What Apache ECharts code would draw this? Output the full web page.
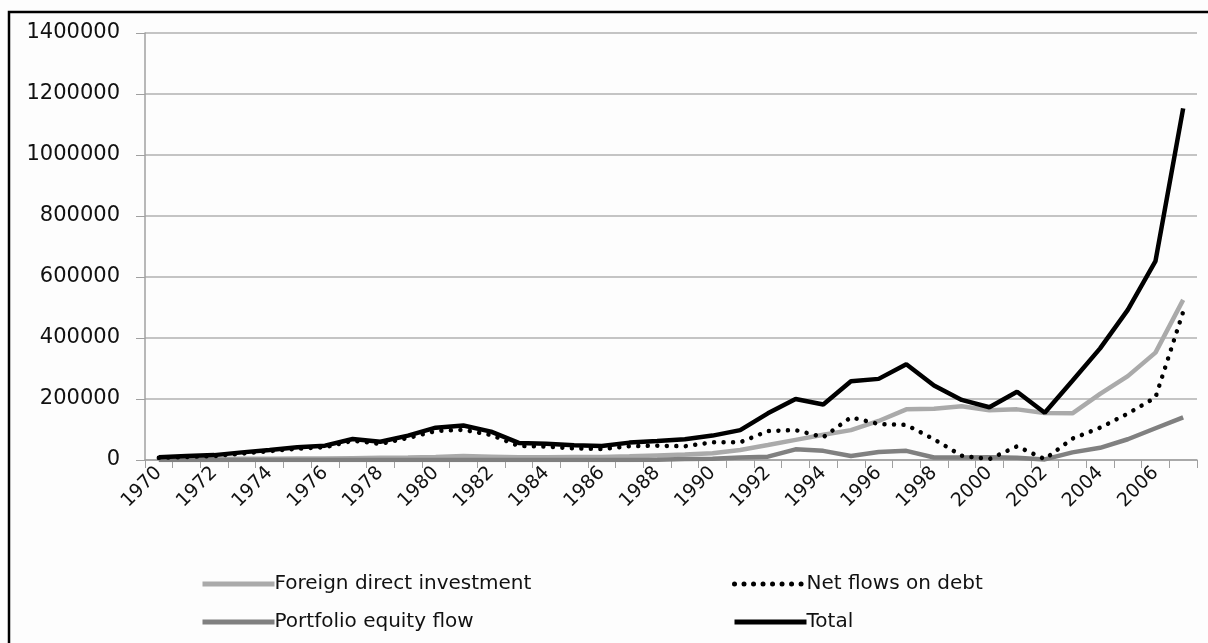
<!DOCTYPE html>
<html>
<head>
<meta charset="utf-8">
<script src="https://cdn.jsdelivr.net/npm/echarts@6/dist/echarts.min.js"></script>
<style>
  html, body { margin: 0; padding: 0; background: #fff; }
  #chart { width: 1208px; height: 643px; }
</style>
</head>
<body>
<div id="chart"></div>
<script>
const years = []
for (let y = 1970; y <= 2007; y++) years.push(String(y))

// values
const fdi = [2000, 3000, 3000, 4000, 4000, 5000, 5000, 6000, 7000, 8000,
  10000, 13000, 11000, 9000, 9000, 10000, 10000, 12000, 15000, 18000,
  22000, 33000, 49000, 66000, 83000, 98000, 128000, 166000, 168000, 176000,
  163000, 166000, 154000, 153000, 217000, 275000, 352000, 525000]
const debt = [7000, 10000, 13000, 21000, 29000, 37000, 42000, 63000, 53000, 72000,
  95000, 99000, 82000, 46000, 44000, 38000, 36000, 45000, 47000, 45000,
  58000, 58000, 95000, 98000, 75000, 140000, 118000, 115000, 68000, 14000,
  3000, 45000, 3000, 70000, 106000, 152000, 205000, 486000]
const portfolio = [0, 0, 0, 0, 0, 0, 0, 0, 0, 0,
  0, 0, 0, 0, 0, 0, 0, 0, 1000, 3000,
  4000, 8000, 11000, 35000, 30000, 13000, 26000, 30000, 8000, 8000,
  9000, 7000, 2000, 25000, 40000, 68000, 104000, 140000]
const total = [9000, 13000, 16000, 25000, 33000, 42000, 47000, 69000, 60000, 80000,
  106000, 113000, 93000, 56000, 53000, 48000, 46000, 57000, 62000, 68000,
  80000, 98000, 153000, 200000, 182000, 258000, 266000, 314000, 244000, 197000,
  173000, 224000, 155000, 260000, 366000, 492000, 652000, 1153000]

const fontFam = 'DejaVu Sans'
const chart = echarts.init(document.getElementById('chart'))

const legendBase = {
  top: 569, orient: 'vertical',
  itemWidth: 72, itemHeight: 22, itemGap: 18,
  itemStyle: { color: 'rgba(0,0,0,0)', borderColor: 'rgba(0,0,0,0)', borderWidth: 0 },
  lineStyle: { width: 5 },
  textStyle: { fontSize: 20, color: '#111', padding: [0, 0, 0, -5] }
}

chart.setOption({
  backgroundColor: '#fdfdfd',
  animation: false,
  textStyle: { fontFamily: fontFam },
  graphic: [{
    type: 'rect',
    shape: { x: 9, y: 12, width: 1240, height: 680 },
    style: { fill: 'none', stroke: '#000', lineWidth: 2.5 },
    z: 100
  }],
  grid: { left: 145, right: 11, top: 33, bottom: 183 },
  legend: [
    Object.assign({ left: 195, data: ['Foreign direct investment', 'Portfolio equity flow'] }, legendBase),
    Object.assign({ left: 727, data: ['Net flows on debt', 'Total'] }, legendBase)
  ],
  xAxis: {
    type: 'category',
    data: years,
    boundaryGap: true,
    axisLine: { lineStyle: { color: '#a0a0a0', width: 1.5 } },
    axisTick: { show: true, interval: 0, length: 8, lineStyle: { color: '#a0a0a0' } },
    axisLabel: { interval: 1, rotate: 45, fontSize: 19, color: '#111', margin: 10 }
  },
  yAxis: {
    type: 'value',
    min: 0, max: 1400000, interval: 200000,
    axisLine: { show: true, lineStyle: { color: '#a0a0a0', width: 1.5 } },
    axisTick: { show: true, length: 9, lineStyle: { color: '#a0a0a0' } },
    axisLabel: { fontSize: 21, color: '#111', margin: 25, formatter: v => String(v) },
    splitLine: { lineStyle: { color: '#b0b0b0', width: 1.5 } }
  },
  series: [
    {
      name: 'Foreign direct investment', type: 'line', data: fdi,
      symbol: 'none', color: '#aaaaaa',
      lineStyle: { color: '#aaaaaa', width: 4.5 }, z: 2
    },
    {
      name: 'Net flows on debt', type: 'line', data: debt,
      symbol: 'none', color: '#000',
      lineStyle: { color: '#000', width: 4.5, type: [0.01, 9.5], cap: 'round' }, z: 3
    },
    {
      name: 'Portfolio equity flow', type: 'line', data: portfolio,
      symbol: 'none', color: '#808080',
      lineStyle: { color: '#808080', width: 4.5 }, z: 2
    },
    {
      name: 'Total', type: 'line', data: total,
      symbol: 'none', color: '#000',
      lineStyle: { color: '#000', width: 4.5 }, z: 4
    }
  ]
})
</script>
</body>
</html>
